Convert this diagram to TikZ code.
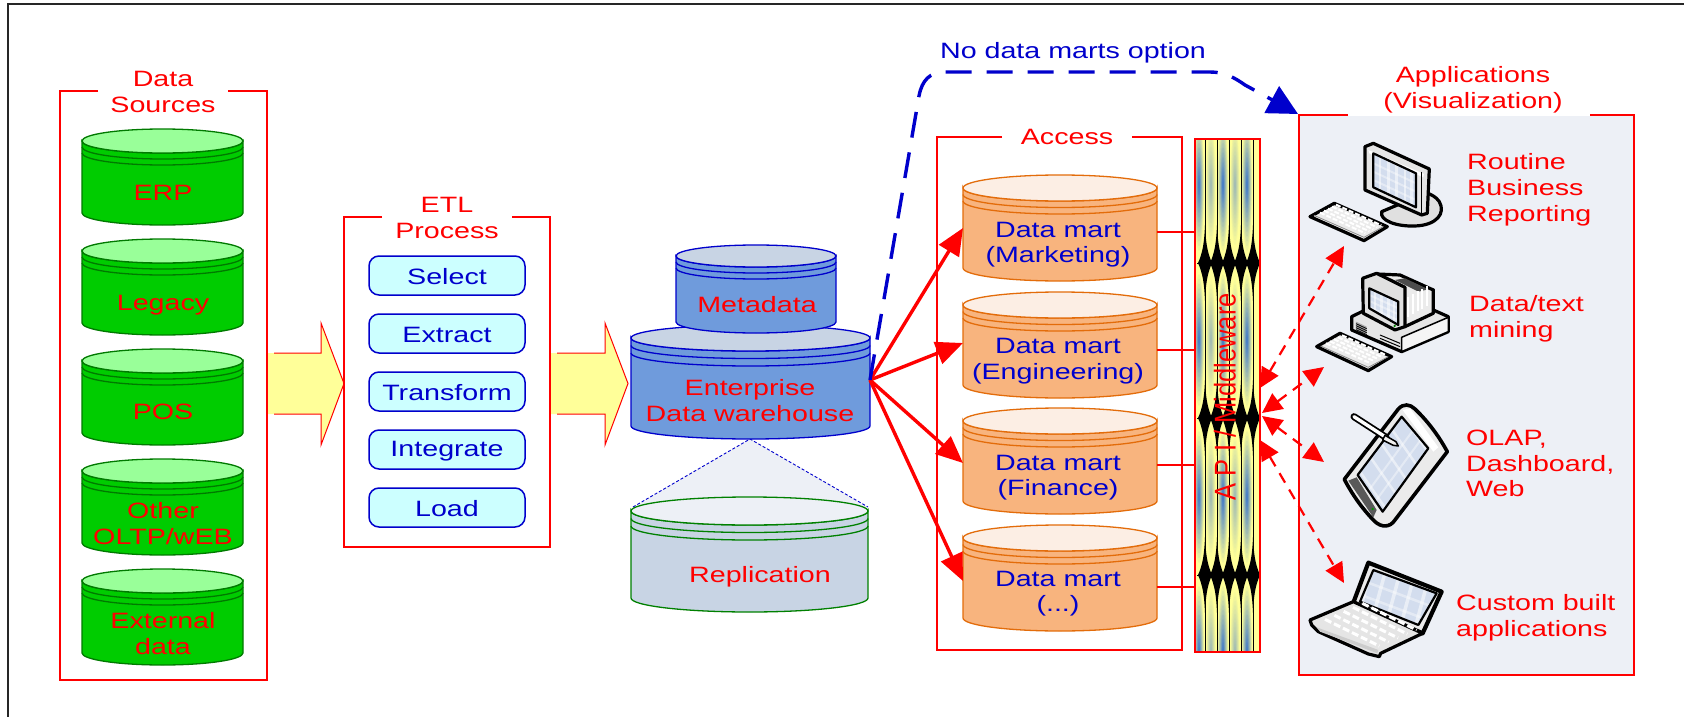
\documentclass[tikz,border=0pt]{standalone}
\usepackage{fontspec}
\usetikzlibrary{arrows.meta}
\newfontfamily\lblfont[FakeStretch=1.29]{Liberation Sans}
\newfontfamily\rotfont[FakeStretch=0.85]{Liberation Sans}
\definecolor{lblred}{HTML}{FF0000}
\definecolor{lblblue}{HTML}{0000CC}
\definecolor{grnbody}{HTML}{00CC00}
\definecolor{grntop}{HTML}{99FF99}
\definecolor{grnline}{HTML}{007A00}
\definecolor{orbody}{HTML}{F8B47E}
\definecolor{ortop}{HTML}{FCEEE4}
\definecolor{orline}{HTML}{E36C0A}
\definecolor{bluebody}{HTML}{6F9BDC}
\definecolor{bluetop}{HTML}{C8D4E4}
\definecolor{paleback}{HTML}{EDF0F6}
\definecolor{arrowyellow}{HTML}{FFFF99}
\definecolor{boxcyan}{HTML}{CCFFFF}
\definecolor{scrn}{HTML}{D3DDEE}
\definecolor{streaka}{HTML}{3F78C8}
\definecolor{streakb}{HTML}{9FBAB4}
\tikzset{
  lbl/.style={font=\lblfont\fontsize{22.2}{25.6}\selectfont,text=lblred,align=center,inner sep=0pt,yshift=-1.7pt},
  lblb/.style={lbl,text=lblblue},
  lbll/.style={lbl,align=left,anchor=west},
  framebox/.style={draw=lblred,line width=1.8pt},
  etlbox/.style={draw=lblblue,fill=boxcyan,line width=1.5pt,rounded corners=10pt},
  redarrow/.style={draw=lblred,line width=3.4pt,-{Triangle[length=27pt,width=23pt]}},
  redlink/.style={draw=lblred,line width=2.6pt},
  biarrow/.style={draw=lblred,line width=2.2pt,dash pattern=on 11pt off 8pt,{Triangle[length=20pt,width=19pt]}-{Triangle[length=20pt,width=19pt]}},
  fatarrow/.style={fill=arrowyellow},
  fatline/.style={draw=lblred,line width=1pt,line join=miter},
  ico/.style={draw=black,line width=3.2pt,line join=round},
  icot/.style={draw=black,line width=1.5pt,line join=round},
}
% left right cy ry cyb off body top line
\newcommand\dbcyl[9]{%
  \pgfmathsetmacro\cylrx{(#2-#1)/2}%
  \pgfmathsetmacro\cylcx{(#2+#1)/2}%
  \pgfmathsetmacro\cylsa{#3+#6}%
  \pgfmathsetmacro\cylsb{#3+2*#6}%
  \draw[fill=#7,draw=#9,line width=1.3pt] (#1,#3) -- (#1,#5) arc[start angle=180,end angle=0,x radius=\cylrx,y radius=#4] -- (#2,#3) arc[start angle=0,end angle=180,x radius=\cylrx,y radius=#4] -- cycle;
  \draw[#9,line width=1.3pt,fill=#8] (\cylcx,#3) ellipse[x radius=\cylrx,y radius=#4];
  \draw[#9,line width=1.3pt] (#1,\cylsa) arc[start angle=180,end angle=0,x radius=\cylrx,y radius=#4];
  \draw[#9,line width=1.3pt] (#1,\cylsb) arc[start angle=180,end angle=0,x radius=\cylrx,y radius=#4];
}
\newcommand\spindle[2]{%
  \fill[black] (#1,#2-38) .. controls (#1+.7,#2-22) and (#1+2,#2-11) .. (#1+7,#2) .. controls (#1+2,#2+11) and (#1+.7,#2+22) .. (#1,#2+38) .. controls (#1-.7,#2+22) and (#1-2,#2+11) .. (#1-7,#2) .. controls (#1-2,#2-11) and (#1-.7,#2-22) .. cycle;
}
% soft blue streak built from nested ellipses: x, y, colour, half width, half height
\newcommand\softstreak[5]{%
  \foreach \k in {14,13,...,1}{%
    \pgfmathsetmacro\mixp{(15-\k)/14*100}%
    \pgfmathsetmacro\rxx{#4*\k/14}%
    \pgfmathsetmacro\ryy{#5*\k/14}%
    \fill[#3!\mixp!arrowyellow] (#1,#2) ellipse[x radius=\rxx,y radius=\ryy];
  }%
}
\begin{document}
\begin{tikzpicture}[x=1pt,y=-1pt]
\useasboundingbox (0,0) rectangle (1684,717);
\fill[white] (0,0) rectangle (1684,717);
% page edge rules
\draw[black!85,line width=2pt] (8,717) -- (8,4) -- (1684,4);

% ---------- Data sources
\draw[framebox] (98,91) -- (60,91) -- (60,680) -- (267,680) -- (267,91) -- (228,91);
\node[lbl] (dstitle) at (163,90) {Data\\Sources};
\foreach \t in {141,251,361,471,581}{
  \pgfmathsetmacro\b{\t+72}
  \dbcyl{82}{243}{\t}{12}{\b}{6}{grnbody}{grntop}{grnline}
}
\node[lbl] (erp) at (163,191) {ERP};
\node[lbl] (legacy) at (163,303) {Legacy};
\node[lbl] (pos) at (163,410) {POS};
\node[lbl] (oltp) at (163,522) {Other\\OLTP/wEB};
\node[lbl] (ext) at (163,632) {External\\data};

% ---------- Fat arrows
\fill[fatarrow] (268,353) -- (321,353) -- (321,323) -- (344,383.5) -- (321,445) -- (321,414) -- (268,414) -- cycle;
\draw[fatline] (274,353) -- (321,353) -- (321,323) -- (344,383.5) -- (321,445) -- (321,414) -- (274,414);
\fill[fatarrow] (551,353) -- (605,353) -- (605,323) -- (628,383.5) -- (605,445) -- (605,414) -- (551,414) -- cycle;
\draw[fatline] (557,353) -- (605,353) -- (605,323) -- (628,383.5) -- (605,445) -- (605,414) -- (557,414);

% ---------- ETL
\draw[framebox] (382,217) -- (344,217) -- (344,547) -- (550,547) -- (550,217) -- (512,217);
\node[lbl] (etltitle) at (447,216) {ETL\\Process};
\foreach \nm/\t/\lab in {sel/256/Select,ext/314/Extract,tra/372/Transform,int/430/Integrate,loa/488/Load}{
  \draw[etlbox] (369,\t) rectangle (525,\t+39);
  \node[lblb] (\nm) at (447,\t+19) {\lab};
}

% ---------- Warehouse
\fill[paleback] (750,439) -- (633,507) -- (868,507) -- cycle;
\draw[lblblue,line width=.9pt,dash pattern=on 3pt off 2pt] (633,507) -- (750,439) -- (868,507);
\dbcyl{631}{868}{511}{14}{598}{7.5}{bluetop}{paleback}{green!50!black}
\dbcyl{631}{870}{338}{13}{426}{7.5}{bluebody}{bluetop}{lblblue}
\dbcyl{676}{836}{256}{11}{322}{6}{bluebody}{bluetop}{lblblue}
\node[lbl] (meta) at (757,303) {Metadata};
\node[lbl] (edw) at (750,399) {Enterprise\\Data warehouse};
\node[lbl] (rep) at (760,575) {Replication};
\coordinate (edwe) at (870,380);

% ---------- Access
\draw[framebox] (1002,137) -- (937,137) -- (937,650) -- (1182,650) -- (1182,137) -- (1132,137);
\node[lbl] (acc) at (1067,135) {Access};
\foreach \t in {188,305,421,538}{
  \pgfmathsetmacro\b{\t+80}
  \dbcyl{963}{1157}{\t}{13}{\b}{6.5}{orbody}{ortop}{orline}
}
\node[lblb] (dm1) at (1058,243) {Data mart\\(Marketing)};
\node[lblb] (dm2) at (1058,359.5) {Data mart\\(Engineering)};
\node[lblb] (dm3) at (1058,476) {Data mart\\(Finance)};
\node[lblb] (dm4) at (1058,592) {Data mart\\(...)};
\coordinate (dm1w) at (963,228); \coordinate (dm2w) at (963,343);
\coordinate (dm3w) at (963,463); \coordinate (dm4w) at (963,581);
\coordinate (dm1e) at (1157,232); \coordinate (dm2e) at (1157,350);
\coordinate (dm3e) at (1157,465); \coordinate (dm4e) at (1157,587);
\coordinate (col1) at (1195,232); \coordinate (col2) at (1195,350);
\coordinate (col3) at (1195,465); \coordinate (col4) at (1195,587);
\draw[redlink] (dm1e) -- (col1);
\draw[redlink] (dm2e) -- (col2);
\draw[redlink] (dm3e) -- (col3);
\draw[redlink] (dm4e) -- (col4);
\draw[redarrow] (edwe) -- (dm1w);
\draw[redarrow] (edwe) -- (dm2w);
\draw[redarrow] (edwe) -- (dm3w);
\draw[redarrow] (edwe) -- (dm4w);

% ---------- API column
\begin{scope}
  \clip (1195,139) rectangle (1260,652);
  \fill[arrowyellow] (1195,139) rectangle (1260,652);
  \foreach \yc in {185,340,497,652}{
    \softstreak{1199}{\yc}{streaka}{5}{66}
    \softstreak{1211}{\yc}{streakb}{4.5}{60}
    \softstreak{1223}{\yc}{streaka}{5}{66}
    \softstreak{1235}{\yc}{streakb}{4.5}{60}
    \softstreak{1247}{\yc}{streaka}{5}{66}
  }
  \foreach \xc in {1205,1217,1229,1241,1253}{
    \draw[black,line width=1pt] (\xc,139) -- (\xc,652);
    \foreach \yc in {263,418,575}{ \spindle{\xc}{\yc} }
  }
  \foreach \yc in {263,418,575}{ \draw[black,line width=.7pt] (1197,\yc) -- (1258,\yc); }
\end{scope}
\draw[framebox] (1195,139) rectangle (1260,652);
\node[lbl,rotate=90,yshift=1.7pt,font=\rotfont\fontsize{30}{30}\selectfont] (api) at (1226.5,395) {A P I / Middleware};

% ---------- Applications
\fill[paleback] (1299,116) rectangle (1634,675);
\draw[framebox] (1348,115) -- (1299,115) -- (1299,675) -- (1634,675) -- (1634,115) -- (1590,115);
\node[lbl] (apptitle) at (1473,88) {Applications\\(Visualization)};
\node[lbll] (app1) at (1467,188) {Routine\\Business\\Reporting};
\node[lbll] (app2) at (1469,317) {Data/text\\mining};
\node[lbll] (app3) at (1466,462) {OLAP,\\Dashboard,\\Web};
\node[lbll] (app4) at (1456,616) {Custom built\\applications};

% monitor
\begin{scope}[shift={(1090,100)},x=.3333pt,y=-.3333pt]
  \draw[ico,fill=black!12] (875,335) .. controls (868,362) and (920,380) .. (975,378) .. controls (1040,376) and (1068,340) .. (1048,305) .. controls (1038,290) and (1025,285) .. (1010,278) -- cycle;
  \draw[ico,fill=black!10] (825,140) -- (850,130) -- (1018,207) -- (1012,340) -- (995,345) -- (825,270) -- cycle;
  \fill[white] (835,150) -- (1002,222) -- (1000,232) -- (838,160) -- cycle;
  \begin{scope}
    \clip (850,160) -- (978,220) -- (978,322) -- (850,262) -- cycle;
    \fill[scrn] (850,160) rectangle (978,322);
    \foreach \i in {870,895,920,945,965}{\draw[white,line width=2.5pt,opacity=.5] (\i,150) -- (\i,330);}
    \foreach \i in {0,1,2,3}{\draw[white,line width=2pt,opacity=.4] (850,190+\i*25) -- (978,250+\i*25);}
  \end{scope}
  \draw[icot,line width=2.2pt] (850,160) -- (978,220) -- (978,322) -- (850,262) -- cycle;
  \draw[icot] (995,215) -- (995,345);
  \draw[ico,fill=black!8] (660,350) -- (733,310) -- (892,380) -- (822,422) -- cycle;
  \draw[black!45,line width=.8pt] (672,346) -- (822,412) -- (880,380);
  \foreach \i in {0,1,2,3,4}{\draw[white,line width=2pt,dash pattern=on 5pt off 2pt] (690+\i*12,338-\i*6) -- (826+\i*12,400-\i*6);}
\end{scope}

% desktop
\begin{scope}[shift={(1090,100)},x=.3333pt,y=-.3333pt]
  \draw[ico,fill=black!10] (785,650) -- (830,628) -- (1030,570) -- (1030,630) -- (1075,650) -- (1075,695) -- (935,755) -- (785,690) -- cycle;
  \draw[icot,fill=black!4] (935,712) -- (1075,652) -- (1075,695) -- (935,755) -- cycle;
  \fill[black!35] (798,665) -- (830,680) -- (830,705) -- (798,690) -- cycle;
  \foreach \i in {0,1,2,3}{\draw[black,line width=.8pt] (798,671+\i*6) -- (830,686+\i*6);}
  \draw[black,line width=1pt] (870,705) -- (930,730);
  \draw[black,line width=1pt] (870,715) -- (930,740);
  \draw[ico,fill=black!8] (860,522) -- (930,525) -- (1030,570) -- (1030,640) -- (945,680) -- (860,640) -- cycle;
  \fill[black!70] (915,540) -- (945,535) -- (1015,568) -- (985,575) -- cycle;
  \foreach \i in {0,1,2,3,4}{\draw[white,line width=2pt] (955+\i*14,590+\i*-8) -- (955+\i*14,650+\i*-8);}
  \draw[ico,fill=black!12] (818,535) -- (860,520) -- (945,562) -- (945,680) -- (915,690) -- (820,640) -- cycle;
  \begin{scope}
    \clip (838,565) -- (925,605) -- (925,675) -- (838,625) -- cycle;
    \fill[scrn] (838,565) rectangle (925,675);
    \foreach \i in {855,875,895,912}{\draw[white,line width=2.5pt,opacity=.5] (\i,555) -- (\i,680);}
    \foreach \i in {0,1,2}{\draw[white,line width=2pt,opacity=.4] (838,585+\i*18) -- (925,625+\i*18);}
  \end{scope}
  \draw[icot,line width=2.2pt] (838,565) -- (925,605) -- (925,675) -- (838,625) -- cycle;
  \fill[green!50!black] (914,678) circle[radius=4];
  \draw[ico,fill=black!8] (680,740) -- (750,700) -- (905,770) -- (835,812) -- cycle;
  \draw[black!45,line width=.8pt] (692,738) -- (835,802) -- (895,770);
  \foreach \i in {0,1,2,3,4}{\draw[white,line width=2pt,dash pattern=on 5pt off 2pt] (708+\i*12,730-\i*6) -- (842+\i*12,790-\i*6);}
\end{scope}

% tablet
\begin{scope}[shift={(1090,360)},x=.3333pt,y=-.3333pt]
  \draw[ico,line width=3.6pt,fill=black!8] (763,358) -- (925,147) .. controls (940,130) and (960,132) .. (975,147) .. controls (1020,190) and (1050,235) .. (1072,275) -- (915,480) .. controls (900,503) and (875,503) .. (855,485) .. controls (815,445) and (785,400) .. cycle;
  \fill[white] (938,150) -- (960,145) -- (1045,262) -- (1030,275) -- cycle;
  \fill[black!65] (775,362) -- (800,352) -- (860,450) -- (850,472) -- cycle;
  \begin{scope}
    \clip (935,170) -- (1015,265) -- (878,455) -- (803,345) -- cycle;
    \fill[scrn] (790,160) rectangle (1020,460);
    \foreach \i in {0,1,2,3,4,5,6}{\draw[white,line width=2.5pt,opacity=.5] (800+\i*32,320+\i*-42) -- (890+\i*32,450+\i*-42);}
    \foreach \i in {0,1,2,3,4,5}{\draw[white,line width=2pt,opacity=.4] (830+\i*22,400+\i*30) -- (970+\i*22,210+\i*30);}
  \end{scope}
  \draw[icot,line width=2.2pt] (935,170) -- (1015,265) -- (878,455) -- (803,345) -- cycle;
  \draw[black,line width=7pt,line cap=round] (792,170) -- (888,232);
  \draw[white,line width=3.4pt,line cap=round] (792,170) -- (888,232);
  \draw[icot,fill=black!6] (885,226) -- (918,245) -- (925,258) -- (910,256) -- (878,240) -- cycle;
  \fill[green!60!black] (848,447) circle[radius=4];
\end{scope}

% laptop
\begin{scope}[shift={(1290,550)},x=.3333pt,y=-.3333pt]
  \draw[ico,line width=4.2pt,fill=black!8] (190,158) -- (235,38) -- (455,125) -- (398,250) -- cycle;
  \begin{scope}
    \clip (250,60) -- (440,130) -- (385,225) -- (210,155) -- cycle;
    \fill[scrn] (205,55) rectangle (445,230);
    \foreach \i in {245,290,335,380,425}{\draw[white,line width=3.5pt,opacity=.5] (\i,50) -- (\i-50,235);}
    \foreach \i in {0,1,2}{\draw[white,line width=2.5pt,opacity=.4] (200,85+\i*45) -- (440,175+\i*45);}
  \end{scope}
  \draw[icot,line width=2.2pt] (250,60) -- (440,130) -- (385,225) -- (210,155) -- cycle;
  \draw[ico,fill=black!10] (60,210) -- (190,155) -- (398,250) -- (272,310) -- (268,320) -- (235,312) -- (85,245) -- (65,225) -- cycle;
  \fill[black!20] (80,232) -- (265,300) -- (262,310) -- (90,245) -- cycle;
  \foreach \i in {0,1,2,3,4}{\draw[white,line width=3pt,dash pattern=on 7pt off 3pt] (105+\i*28,208-\i*12) -- (268+\i*28,288-\i*12);}
  \draw[black,line width=1.4pt] (272,310) -- (398,250);
\end{scope}

% bidirectional
\coordinate (coltop) at (1260,388);
\coordinate (colmida) at (1262,413);
\coordinate (colmidb) at (1262,416);
\coordinate (colbot) at (1260,440);
\coordinate (ico1) at (1344,246);
\coordinate (ico2) at (1324,367);
\coordinate (ico3) at (1324,462);
\coordinate (ico4) at (1344,583);
\draw[biarrow] (coltop) -- (ico1);
\draw[biarrow] (colmida) -- (ico2);
\draw[biarrow] (colmidb) -- (ico3);
\draw[biarrow] (colbot) -- (ico4);

% no data marts
\coordinate (appcorner) at (1298,114);
\draw[lblblue,line width=3.4pt,dash pattern=on 26pt off 15pt,-{Triangle[length=30pt,width=30pt]}] (edwe) -- (919,96) .. controls (922,80) and (930,72) .. (945,72) -- (1210,72) .. controls (1225,72) and (1235,78) .. (1245,85) -- (appcorner);
\node[lblb] (nodm) at (1073,51) {No data marts option};
\end{tikzpicture}
\end{document}
